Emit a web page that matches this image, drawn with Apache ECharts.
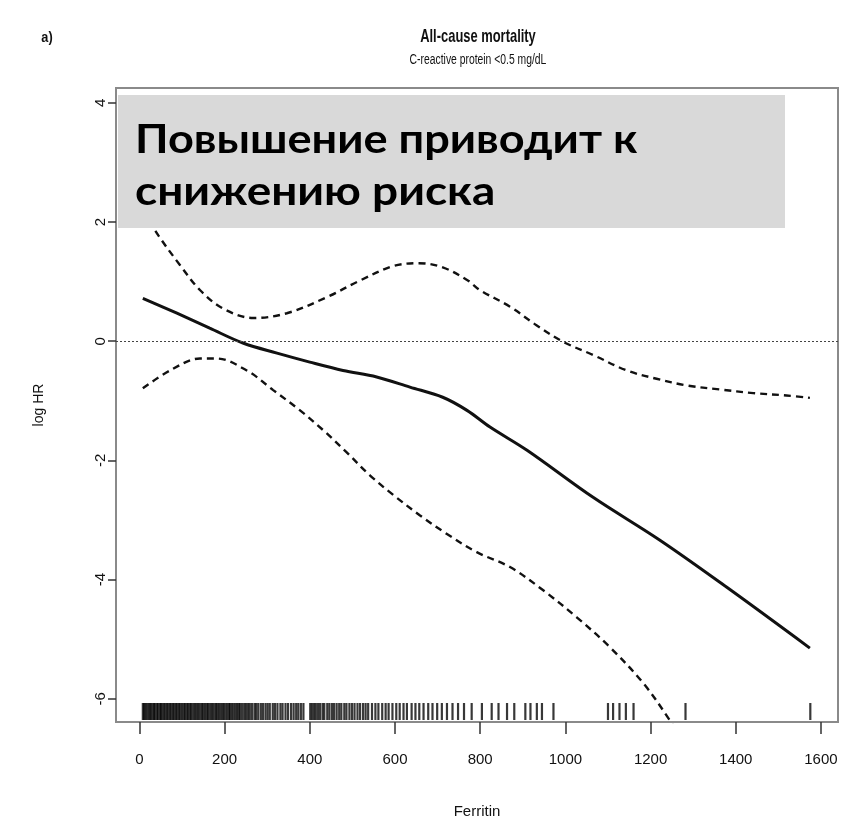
<!DOCTYPE html>
<html>
<head>
<meta charset="utf-8">
<script src="https://cdn.jsdelivr.net/npm/echarts@6/dist/echarts.min.js"></script>
<style>
  html, body { margin: 0; padding: 0; background: #ffffff; }
  #chart { width: 850px; height: 825px; }
</style>
</head>
<body>
<div id="chart"></div>
<script>
// Spline fit of log hazard ratio against ferritin, with 95% confidence band
const fitX = [8, 88, 165, 243, 323, 400, 478, 557, 635, 712, 769, 823, 910, 1065, 1222, 1379, 1574];
const fitY = [0.72, 0.47, 0.22, -0.03, -0.20, -0.35, -0.49, -0.60, -0.77, -0.94, -1.16, -1.44, -1.83, -2.62, -3.34, -4.13, -5.15];

const upperX = [8, 44, 95, 142, 196, 267, 346, 440, 518, 595, 654, 712, 771, 799, 870, 932, 995, 1065, 1144, 1214, 1284, 1363, 1441, 1519, 1574];
const upperY = [2.20, 1.78, 1.28, 0.86, 0.55, 0.39, 0.47, 0.74, 1.02, 1.26, 1.31, 1.24, 1.02, 0.86, 0.58, 0.27, -0.01, -0.23, -0.49, -0.63, -0.74, -0.81, -0.87, -0.91, -0.95];

const lowerX = [8, 72, 142, 181, 252, 314, 377, 431, 486, 541, 596, 658, 721, 792, 870, 948, 1026, 1104, 1183, 1245, 1320, 1440, 1574];
const lowerY = [-0.79, -0.49, -0.29, -0.29, -0.49, -0.82, -1.16, -1.49, -1.86, -2.25, -2.58, -2.92, -3.23, -3.54, -3.79, -4.18, -4.63, -5.13, -5.74, -6.36, -7.20, -8.60, -10.20];

// Observed ferritin values (rug along the bottom of the panel)
const ferritinObs = [
  8, 11, 14, 17, 21, 24, 27, 31, 34, 37, 41, 44, 48, 51, 54, 58, 61, 65, 68, 72, 75, 79, 82, 86, 89, 93, 96,
  100, 104, 107, 111, 114, 118, 121, 125, 129, 132, 136, 139, 143, 147, 150, 154, 158, 161, 165, 169, 172,
  176, 180, 183, 187, 191, 195, 198, 202, 206, 210, 213, 217, 221, 225, 229, 233, 236,
  241, 246, 250, 255, 259, 264, 270, 274, 279, 285, 290, 296, 301, 306, 313, 318, 324, 331, 336, 343, 349,
  356, 362, 368, 373, 379, 385,
  401, 405, 410, 414, 419, 424, 430, 434, 441, 446, 452, 457, 463, 469, 474, 481, 486, 493, 499, 505, 512,
  518, 525, 531, 537,
  546, 554, 561, 570, 578, 585, 594, 603, 611, 620, 628, 639, 648, 657, 667, 678, 688, 699, 710, 722, 735, 748,
  762, 780, 804, 827, 843, 863, 880, 906, 918, 933, 945, 972,
  1100, 1112, 1127, 1142, 1160, 1282, 1575
];

const xTicks = [0, 200, 400, 600, 800, 1000, 1200, 1400, 1600];
const yTicks = [-6, -4, -2, 0, 2, 4];

const titleText = 'All-cause mortality';
const subtitleText = 'C-reactive protein <0.5 mg/dL';
const panelTag = 'a)';
const xName = 'Ferritin';
const yName = 'log HR';
const noteLines = ['Повышение приводит к', 'снижению риска'];

const pairs = (xs, ys) => xs.map((x, i) => [x, ys[i]]);

const axisFont = "'Liberation Sans', Arial, sans-serif";
const ink = '#111111';

const chart = echarts.init(document.getElementById('chart'), null, { renderer: 'canvas' });

chart.setOption({
  animation: false,
  backgroundColor: '#ffffff',
  grid: {
    left: 116, right: 12, top: 88, bottom: 103,
    show: true, borderColor: '#8a8a8a', borderWidth: 2, backgroundColor: 'transparent'
  },
  xAxis: {
    type: 'value',
    min: -55, max: 1640,
    name: xName,
    nameLocation: 'middle',
    nameGap: 82,
    nameTextStyle: { fontFamily: axisFont, fontSize: 15, color: ink },
    axisLine: { show: false, onZero: false },
    splitLine: { show: false },
    axisTick: { show: true, length: 12, customValues: xTicks, lineStyle: { color: '#333', width: 1.5 } },
    axisLabel: {
      customValues: xTicks, margin: 30, fontFamily: axisFont, fontSize: 15, color: ink,
      formatter: v => String(v)
    }
  },
  yAxis: {
    type: 'value',
    min: -6.39, max: 4.25,
    name: yName,
    nameLocation: 'middle',
    nameGap: 70,
    nameRotate: 90,
    nameTextStyle: { fontFamily: axisFont, fontSize: 14, color: ink },
    axisLine: { show: false, onZero: false },
    splitLine: { show: false },
    axisTick: { show: true, length: 8, customValues: yTicks, lineStyle: { color: '#333', width: 1.5 } },
    axisLabel: {
      customValues: yTicks, rotate: 90, margin: 8, fontFamily: axisFont, fontSize: 15, color: ink,
      formatter: v => String(v)
    }
  },
  series: [
    {
      type: 'line',
      data: pairs(fitX, fitY),
      smooth: 0.35,
      showSymbol: false,
      lineStyle: { color: ink, width: 3 },
      z: 3,
      markLine: {
        silent: true,
        symbol: 'none',
        label: { show: false },
        lineStyle: { color: '#444', width: 1, type: [2, 2] },
        data: [{ yAxis: 0 }]
      }
    },
    {
      type: 'line',
      data: pairs(upperX, upperY),
      smooth: 0.35,
      showSymbol: false,
      lineStyle: { color: ink, width: 2.4, type: [7, 5] },
      z: 3
    },
    {
      type: 'line',
      data: pairs(lowerX, lowerY),
      smooth: 0.35,
      showSymbol: false,
      lineStyle: { color: ink, width: 2.4, type: [7, 5] },
      z: 3
    },
    {
      // rug of individual observations, drawn up from the bottom of the panel
      type: 'custom',
      data: ferritinObs.map(v => [v]),
      z: 4,
      renderItem: function (params, api) {
        const base = api.coord([api.value(0), -6.39]);
        return {
          type: 'line',
          shape: { x1: base[0], y1: base[1] - 2, x2: base[0], y2: base[1] - 19 },
          style: { stroke: 'rgba(0,0,0,0.78)', lineWidth: 2.2 }
        };
      }
    }
  ],
  graphic: [
    {
      type: 'text', x: 478, y: 37, z: 20, scaleX: 0.68,
      style: { text: titleText, align: 'center', verticalAlign: 'middle',
               font: "bold 19px 'Liberation Sans', Arial, sans-serif", fill: ink }
    },
    {
      type: 'text', x: 478, y: 60, z: 20, scaleX: 0.74,
      style: { text: subtitleText, align: 'center', verticalAlign: 'middle',
               font: "14px 'Liberation Sans', Arial, sans-serif", fill: ink }
    },
    {
      type: 'text', x: 47, y: 38, z: 20, scaleX: 0.85,
      style: { text: panelTag, align: 'center', verticalAlign: 'middle',
               font: "bold 15px 'Liberation Sans', Arial, sans-serif", fill: ink }
    },
    {
      type: 'rect', z: 10,
      shape: { x: 118, y: 95, width: 667, height: 133 },
      style: { fill: '#d9d9d9' }
    },
    {
      type: 'text', x: 135, y: 140, z: 11, scaleX: 1.1,
      style: { text: noteLines[0], align: 'left', verticalAlign: 'middle',
               font: "bold 41px Lato, 'Open Sans', sans-serif", fill: '#000000' }
    },
    {
      type: 'text', x: 135, y: 192, z: 11, scaleX: 1.12,
      style: { text: noteLines[1], align: 'left', verticalAlign: 'middle',
               font: "bold 41px Lato, 'Open Sans', sans-serif", fill: '#000000' }
    }
  ]
});
</script>
</body>
</html>
